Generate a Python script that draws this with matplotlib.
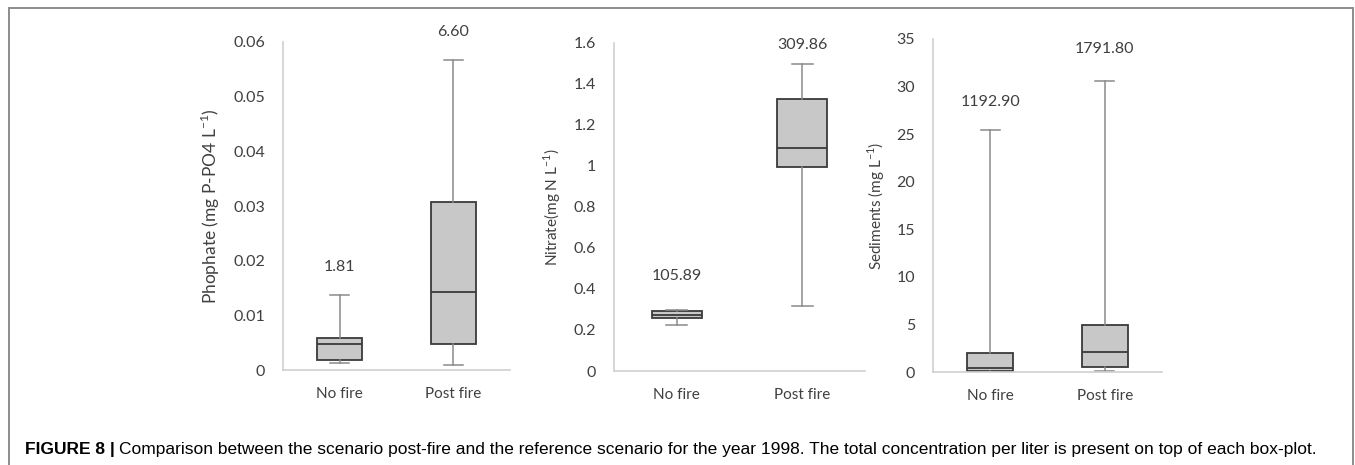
import matplotlib
matplotlib.use("Agg")
import matplotlib.pyplot as plt
from matplotlib.patches import Rectangle
from matplotlib.ticker import MultipleLocator, FuncFormatter

# data
scenarios = ["No fire", "Post fire"]

phos_whislo = [0.0012, 0.0010]
phos_q1 = [0.0018, 0.0047]
phos_med = [0.0047, 0.0143]
phos_q3 = [0.0058, 0.0307]
phos_whishi = [0.0137, 0.0567]
phos_total = ["1.81", "6.60"]
phos_label_y = [0.0188, 0.0619]

nitr_whislo = [0.223, 0.317]
nitr_q1 = [0.257, 0.996]
nitr_med = [0.273, 1.087]
nitr_q3 = [0.294, 1.327]
nitr_whishi = [0.298, 1.496]
nitr_total = ["105.89", "309.86"]
nitr_label_y = [0.463, 1.589]

sed_whislo = [0.02, 0.08]
sed_q1 = [0.1, 0.56]
sed_med = [0.42, 2.1]
sed_q3 = [2.03, 4.94]
sed_whishi = [25.4, 30.6]
sed_total = ["1192.90", "1791.80"]
sed_label_y = [28.4, 33.9]

FONT = ["Lato", "DejaVu Sans"]
TXT = "#404040"

panels = [
    dict(lo=phos_whislo, q1=phos_q1, med=phos_med, q3=phos_q3, hi=phos_whishi,
         tot=phos_total, ty=phos_label_y, ymax=0.06, step=0.01,
         ylabel="Phophate (mg P-PO4 L$^{-1}$)", ylsize=12.5,
         rect=[283 / 1355, 1 - 370 / 465, 227 / 1355, 328 / 465], lx=-0.27),
    dict(lo=nitr_whislo, q1=nitr_q1, med=nitr_med, q3=nitr_q3, hi=nitr_whishi,
         tot=nitr_total, ty=nitr_label_y, ymax=1.6, step=0.2,
         ylabel="Nitrate(mg N L$^{-1}$)", ylsize=11,
         rect=[614 / 1355, 1 - 371 / 465, 251 / 1355, 328.3 / 465], lx=-0.205),
    dict(lo=sed_whislo, q1=sed_q1, med=sed_med, q3=sed_q3, hi=sed_whishi,
         tot=sed_total, ty=sed_label_y, ymax=35, step=5,
         ylabel="Sediments (mg L$^{-1}$)", ylsize=11,
         rect=[933 / 1355, 1 - 372 / 465, 229 / 1355, 333 / 465], lx=-0.20),
]

plt.rcParams["font.family"] = FONT
plt.rcParams["mathtext.fontset"] = "custom"
plt.rcParams["mathtext.rm"] = "Lato"

fig = plt.figure(figsize=(13.55, 4.65), dpi=100)

for p in panels:
    ax = fig.add_axes(p["rect"])
    stats = []
    for i, name in enumerate(scenarios):
        stats.append(dict(label=name, whislo=p["lo"][i], q1=p["q1"][i],
                          med=p["med"][i], q3=p["q3"][i], whishi=p["hi"][i],
                          fliers=[]))
    ax.bxp(stats, positions=[1, 2], widths=0.4, patch_artist=True,
           showfliers=False,
           boxprops=dict(facecolor="#c8c8c8", edgecolor="#3a3a3a", linewidth=1.3),
           medianprops=dict(color="#3a3a3a", linewidth=1.3),
           whiskerprops=dict(color="#8a8a8a", linewidth=1.1),
           capprops=dict(color="#8a8a8a", linewidth=1.1),
           capwidths=0.17)
    for i, t in enumerate(p["tot"]):
        ax.text(i + 1, p["ty"][i], t, ha="center", va="center",
                fontsize=11.5, color=TXT, clip_on=False)
    ax.set_xlim(0.5, 2.5)
    ax.set_ylim(0, p["ymax"])
    ax.yaxis.set_major_locator(MultipleLocator(p["step"]))
    ax.yaxis.set_major_formatter(FuncFormatter(lambda v, pos: "%g" % round(v, 6)))
    ax.tick_params(axis="both", length=0, labelcolor=TXT)
    ax.tick_params(axis="y", pad=13, labelsize=11.5)
    ax.tick_params(axis="x", pad=12, labelsize=11)
    for s in ["top", "right"]:
        ax.spines[s].set_visible(False)
    for s in ["left", "bottom"]:
        ax.spines[s].set_color("#d0d0d0")
        ax.spines[s].set_linewidth(1.2)
    ax.set_ylabel(p["ylabel"], fontsize=p["ylsize"], color=TXT)
    ax.yaxis.set_label_coords(p["lx"], 0.5)
    ax.patch.set_alpha(0)

# outer frame
fig.patches.append(Rectangle((9 / 1355, -0.05), 1344 / 1355, 1.05 - 8 / 465,
                             transform=fig.transFigure, fill=False,
                             edgecolor="#8c8c8c", linewidth=1.4, clip_on=False))

# caption
cap_font = ["Liberation Sans Narrow", "Liberation Sans", "DejaVu Sans"]
t1 = fig.text(25 / 1355, 1 - 449 / 465, "FIGURE 8 |", fontsize=12.5,
              fontweight="bold", family=cap_font, va="center", ha="left")
fig.canvas.draw()
bb = t1.get_window_extent()
fig.text(bb.x1 / fig.bbox.width + 4 / 1355, 1 - 449 / 465,
         "Comparison between the scenario post-fire and the reference scenario for the year 1998. "
         "The total concentration per liter is present on top of each box-plot.",
         fontsize=12.5, family=cap_font, va="center", ha="left")

fig.savefig("out.png", dpi=100)
